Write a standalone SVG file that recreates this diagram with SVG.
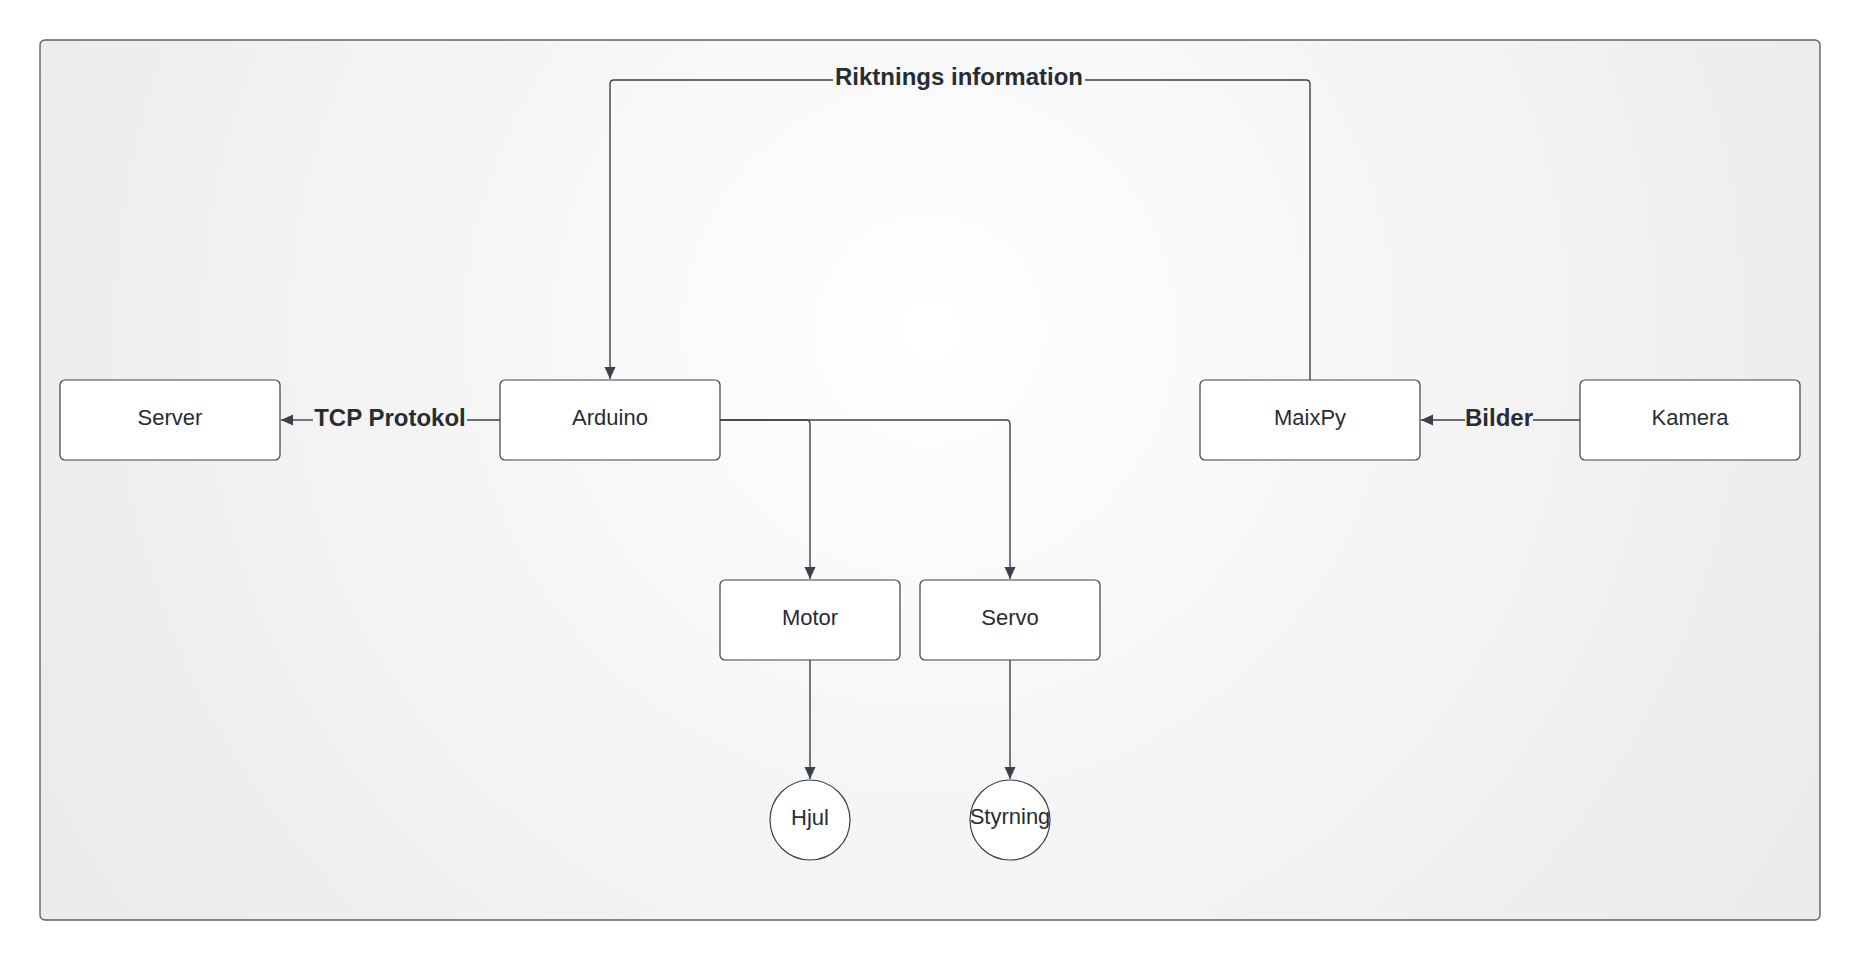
<svg xmlns="http://www.w3.org/2000/svg" width="1860" height="960" viewBox="0 0 1860 960">
<defs>
<radialGradient id="bg" gradientUnits="userSpaceOnUse" cx="930" cy="330" r="1000">
<stop offset="0" stop-color="#ffffff"/>
<stop offset="1" stop-color="#ebebeb"/>
</radialGradient>
<marker id="arr" markerWidth="12" markerHeight="16" refX="12" refY="5.5" orient="auto" markerUnits="userSpaceOnUse" viewBox="0 0 12 11">
<path d="M0,0 L12,5.5 L0,11 Z" fill="#3a414a"/>
</marker>
<style>
.box{fill:#ffffff;stroke:#3a414a;stroke-width:1.2}
.lbl{font-family:"Liberation Sans",Arial,sans-serif;font-size:22px;fill:#282c33;text-anchor:middle}
.elbl{font-family:"Liberation Sans",Arial,sans-serif;font-size:24px;font-weight:bold;fill:#282c33;text-anchor:middle}
.ln{fill:none;stroke:#3a414a;stroke-width:1.4}
</style>
</defs>
<rect x="40" y="40" width="1780" height="880" rx="5" fill="url(#bg)" stroke="#5e6166" stroke-width="1.4"/>
<g id="connectors">
<path class="ln" d="M1310,380 L1310,84 Q1310,80 1306,80 L1085,80"/>
<path class="ln" d="M833,80 L614,80 Q610,80 610,84 L610,379" marker-end="url(#arr)"/>
<text class="elbl" x="959" y="85">Riktnings information</text>
<path class="ln" d="M500,420 L467,420"/>
<path class="ln" d="M313,420 L281,420" marker-end="url(#arr)"/>
<text class="elbl" x="390" y="426">TCP Protokol</text>
<path class="ln" d="M1580,420 L1533,420"/>
<path class="ln" d="M1465,420 L1421,420" marker-end="url(#arr)"/>
<text class="elbl" x="1499" y="426">Bilder</text>
<path class="ln" d="M720,420 L806,420 Q810,420 810,424 L810,579" marker-end="url(#arr)"/>
<path class="ln" d="M720,420 L1006,420 Q1010,420 1010,424 L1010,579" marker-end="url(#arr)"/>
<path class="ln" d="M810,660 L810,779" marker-end="url(#arr)"/>
<path class="ln" d="M1010,660 L1010,779" marker-end="url(#arr)" stroke-width="1"/>
</g>
<g id="server"><rect class="box" x="60" y="380" width="220" height="80" rx="5"/><text class="lbl" x="170" y="425">Server</text></g>
<g id="arduino"><rect class="box" x="500" y="380" width="220" height="80" rx="5"/><text class="lbl" x="610" y="425">Arduino</text></g>
<g id="maixpy"><rect class="box" x="1200" y="380" width="220" height="80" rx="5"/><text class="lbl" x="1310" y="425">MaixPy</text></g>
<g id="kamera"><rect class="box" x="1580" y="380" width="220" height="80" rx="5"/><text class="lbl" x="1690" y="425">Kamera</text></g>
<g id="motor"><rect class="box" x="720" y="580" width="180" height="80" rx="5"/><text class="lbl" x="810" y="625">Motor</text></g>
<g id="servo"><rect class="box" x="920" y="580" width="180" height="80" rx="5"/><text class="lbl" x="1010" y="625">Servo</text></g>
<g id="hjul"><circle class="box" cx="810" cy="820" r="40"/><text class="lbl" x="810" y="825">Hjul</text></g>
<g id="styrning"><circle class="box" cx="1010" cy="820" r="40"/><text class="lbl" x="1010" y="824">Styrning</text></g>
</svg>
